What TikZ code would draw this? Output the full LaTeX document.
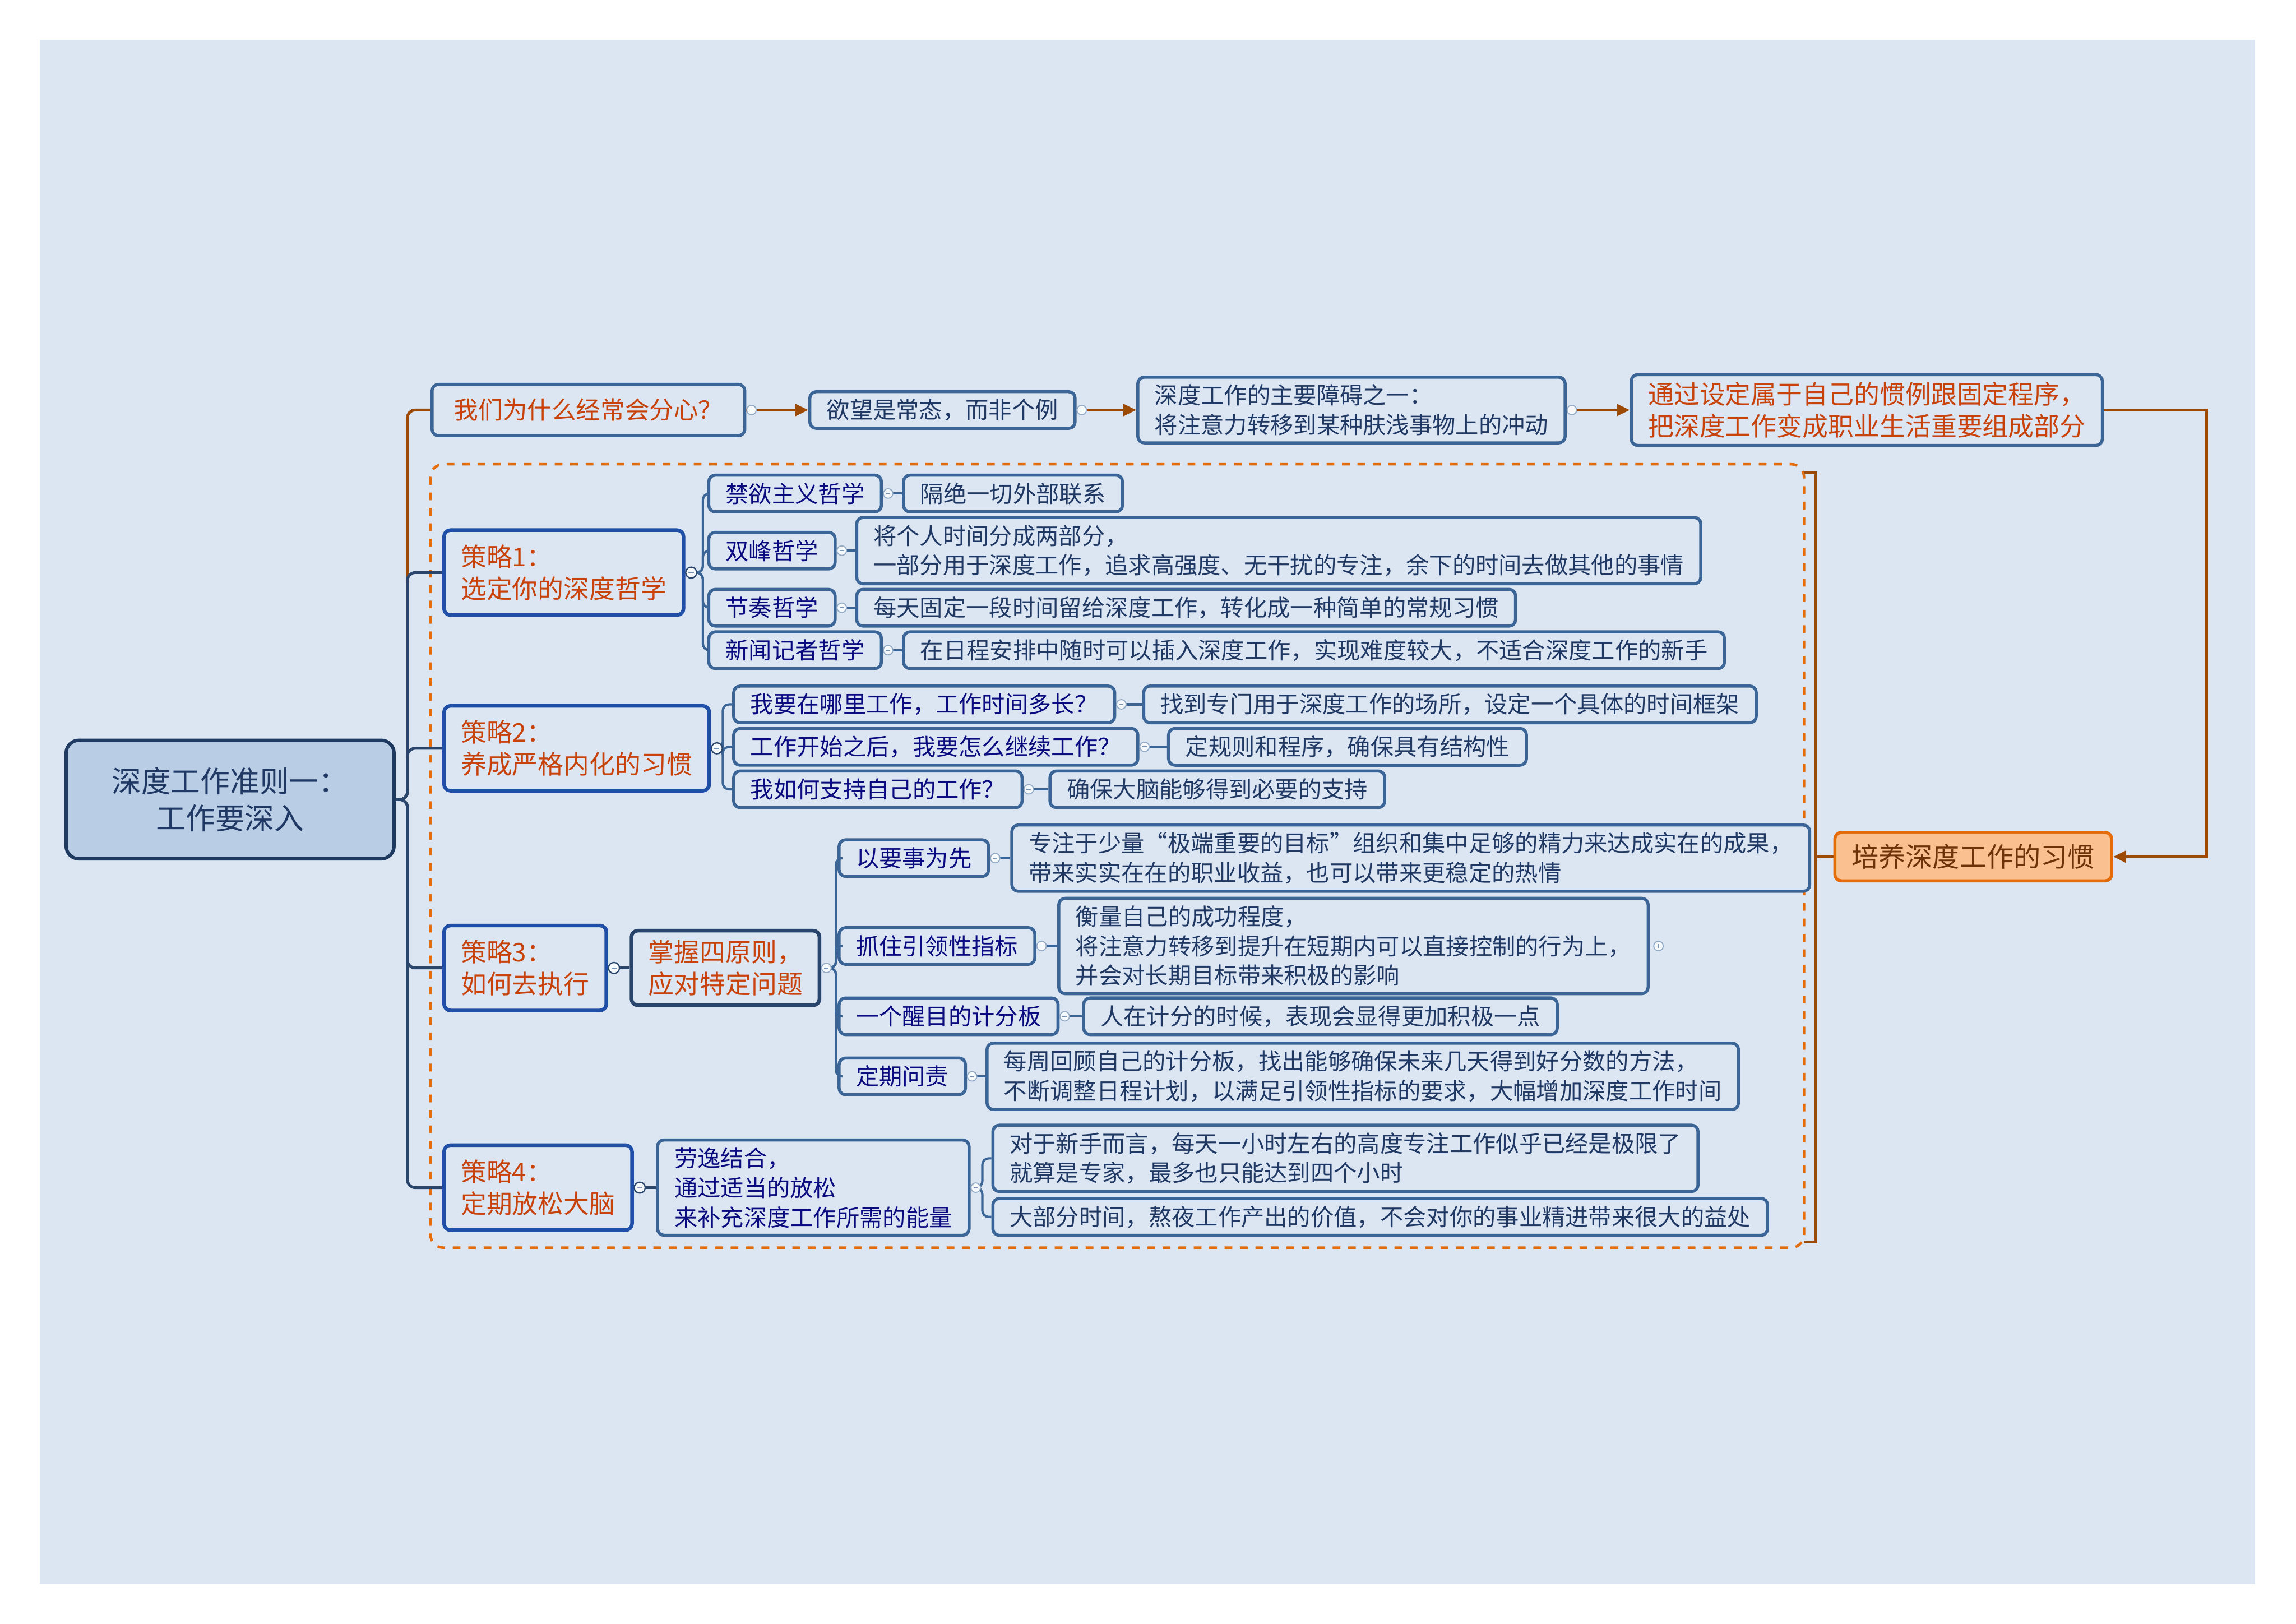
\documentclass[tikz,border=0pt]{standalone}
\usepackage{fontspec}
\setmainfont{Noto Sans CJK SC}
\usetikzlibrary{arrows.meta}

\definecolor{bgblue}{HTML}{DCE6F2}
\definecolor{boxline}{HTML}{3B6596}
\definecolor{stratline}{HTML}{1F4FA6}
\definecolor{rootfill}{HTML}{B9CDE5}
\definecolor{rootline}{HTML}{1F3A60}
\definecolor{orangetxt}{HTML}{C8420C}
\definecolor{navytxt}{HTML}{0B0B80}
\definecolor{leaftxt}{HTML}{1F3864}
\definecolor{brownline}{HTML}{9C4A06}
\definecolor{habitfill}{HTML}{FAC08F}
\definecolor{habitline}{HTML}{E46C0A}
\definecolor{habittxt}{HTML}{6E3309}
\definecolor{trunkcol}{HTML}{2A456B}

\begin{document}
\begin{tikzpicture}[x=0.02cm, y=-0.02cm,
    box/.style={draw=boxline, line width=1.2pt, rounded corners=2.5pt, fill=bgblue, inner xsep=0.23cm, inner ysep=0.1cm, minimum height=0.5cm, anchor=west, align=left},
    leaf/.style={box, text=leaftxt, font=\fontsize{9pt}{11.5pt}\selectfont},
    topic/.style={box, text=navytxt, font=\fontsize{9pt}{11.5pt}\selectfont},
    hint/.style={box, text=orangetxt, font=\fontsize{10pt}{12.5pt}\selectfont},
    strat/.style={hint, draw=stratline, line width=1.4pt, minimum height=1.16cm},
    trunk/.style={draw=trunkcol, line width=1.1pt, rounded corners=3pt},
    twig/.style={draw=boxline, line width=0.9pt, rounded corners=2.5pt},
    relation/.style={draw=brownline, line width=1.1pt, -{Triangle[length=5pt,width=4.5pt]}},
    brace/.style={draw=brownline, line width=1pt},
    knob/.style={draw=boxline!55, fill=white!75!bgblue, line width=0.4pt},
    darkknob/.style={draw=trunkcol, fill=white!75!bgblue, line width=0.5pt}]

    % Kertas dan latar
    \fill[white] (0,0) rectangle (1568,1109);
    \fill[bgblue] (27,27) rectangle (1540,1082);
    \useasboundingbox (0,0) rectangle (1568,1109);

    % Batas strategi
    \draw[habitline, line width=1pt, dashed, rounded corners=5pt] (294,317) rectangle (1232,852);

    % Akar
    \node[draw=rootline, fill=rootfill, line width=1.3pt, rounded corners=5pt, minimum width=4.48cm, minimum height=1.62cm, align=center, anchor=west, text=leaftxt, font=\fontsize{11.5pt}{14.5pt}\selectfont] (root) at (44,546) {深度工作准则一：\\工作要深入};

    % Baris atas
    \node[hint, font=\fontsize{9.5pt}{12pt}\selectfont, inner xsep=0.3cm, minimum height=0.7cm] (top) at (294,280) {我们为什么经常会分心？};
    \node[leaf] (desire) at (552,280) {欲望是常态，而非个例};
    \node[leaf] (obstacle) at (776,280) {深度工作的主要障碍之一：\\将注意力转移到某种肤浅事物上的冲动};
    \node[hint] (ritual) at (1113,280) {通过设定属于自己的惯例跟固定程序，\\把深度工作变成职业生活重要组成部分};

    % Ringkasan
    \node[box, draw=habitline, fill=habitfill, text=habittxt, font=\fontsize{10.5pt}{13pt}\selectfont, minimum height=0.66cm] (habit) at (1252,585) {培养深度工作的习惯};

    % Strategi 1
    \node[strat] (s1) at (302,391) {策略1：\\选定你的深度哲学};
    \node[topic] (s1a) at (483,337) {禁欲主义哲学};
    \node[leaf] (s1aL) at (616,337) {隔绝一切外部联系};
    \node[topic] (s1b) at (483,376) {双峰哲学};
    \node[leaf] (s1bL) at (584,376) {将个人时间分成两部分，\\一部分用于深度工作，追求高强度、无干扰的专注，余下的时间去做其他的事情};
    \node[topic] (s1c) at (483,415) {节奏哲学};
    \node[leaf] (s1cL) at (584,415) {每天固定一段时间留给深度工作，转化成一种简单的常规习惯};
    \node[topic] (s1d) at (483,444) {新闻记者哲学};
    \node[leaf] (s1dL) at (616,444) {在日程安排中随时可以插入深度工作，实现难度较大，不适合深度工作的新手};

    % Strategi 2
    \node[strat] (s2) at (302,511) {策略2：\\养成严格内化的习惯};
    \node[topic] (s2a) at (500,481) {我要在哪里工作，工作时间多长？};
    \node[leaf] (s2aL) at (780,481) {找到专门用于深度工作的场所，设定一个具体的时间框架};
    \node[topic] (s2b) at (500,510) {工作开始之后，我要怎么继续工作？};
    \node[leaf] (s2bL) at (797,510) {定规则和程序，确保具有结构性};
    \node[topic] (s2c) at (500,539) {我如何支持自己的工作？};
    \node[leaf] (s2cL) at (716,539) {确保大脑能够得到必要的支持};

    % Strategi 3
    \node[strat] (s3) at (302,661) {策略3：\\如何去执行};
    \node[hint, draw=trunkcol, line width=1.4pt, minimum height=1.02cm] (s3b) at (430,661) {掌握四原则，\\应对特定问题};
    \node[topic] (s3x1) at (572,586) {以要事为先};
    \node[leaf] (s3x1L) at (690,586) {专注于少量“极端重要的目标”组织和集中足够的精力来达成实在的成果，\\带来实实在在的职业收益，也可以带来更稳定的热情};
    \node[topic] (s3x2) at (572,646) {抓住引领性指标};
    \node[leaf] (s3x2L) at (722,646) {衡量自己的成功程度，\\将注意力转移到提升在短期内可以直接控制的行为上，\\并会对长期目标带来积极的影响};
    \node[topic] (s3x3) at (572,694) {一个醒目的计分板};
    \node[leaf] (s3x3L) at (739,694) {人在计分的时候，表现会显得更加积极一点};
    \node[topic] (s3x4) at (572,735) {定期问责};
    \node[leaf] (s3x4L) at (673,735) {每周回顾自己的计分板，找出能够确保未来几天得到好分数的方法，\\不断调整日程计划，以满足引领性指标的要求，大幅增加深度工作时间};

    % Strategi 4
    \node[strat] (s4) at (302,811) {策略4：\\定期放松大脑};
    \node[topic] (s4b) at (448,811) {劳逸结合，\\通过适当的放松\\来补充深度工作所需的能量};
    \node[leaf] (s4x1) at (677,791) {对于新手而言，每天一小时左右的高度专注工作似乎已经是极限了\\就算是专家，最多也只能达到四个小时};
    \node[leaf] (s4x2) at (677,831) {大部分时间，熬夜工作产出的价值，不会对你的事业精进带来很大的益处};

    % Garis dari akar
    \draw[trunk, draw=brownline] (root.east) -- ++(8,0) |- (top.west);
    \foreach \s in {s1,s2,s3,s4}
        \draw[trunk] (root.east) -- ++(8,0) |- (\s.west);

    % Cabang
    \foreach \c in {s1a,s1b,s1c,s1d}
        \draw[twig] (s1.east) -- ++(12,0) |- (\c.west);
    \foreach \c in {s2a,s2b,s2c}
        \draw[twig] (s2.east) -- ++(8,0) |- (\c.west);
    \draw[trunk] (s3.east) -- (s3b.west);
    \foreach \c in {s3x1,s3x2,s3x3,s3x4}
        \draw[twig] (s3b.east) -- ++(10,0) |- (\c.west);
    \draw[trunk] (s4.east) -- (s4b.west);
    \foreach \c in {s4x1,s4x2}
        \draw[twig] (s4b.east) -- ++(8,0) |- (\c.west);
    \foreach \c in {s1a,s1b,s1c,s1d,s2a,s2b,s2c,s3x1,s3x2,s3x3,s3x4}
        \draw[twig] (\c.east) -- (\c L.west);

    % Rantai atas
    \draw[relation] (top.east) -- (desire.west);
    \draw[relation] (desire.east) -- (obstacle.west);
    \draw[relation] (obstacle.east) -- (ritual.west);
    \coordinate (turn) at (1507,280);
    \draw[relation] (ritual.east) -- (turn) |- (habit.east);

    % Kurung ringkasan
    \coordinate (brtop) at (1232,323);
    \coordinate (brmid) at (1240,585);
    \coordinate (brbot) at (1232,848);
    \draw[brace] (brtop) -| (brmid) |- (brbot);
    \draw[brace] (brmid) -- (habit.west);

    % Tombol lipat
    \foreach \n in {top,desire,obstacle,s1a,s1b,s1c,s1d,s2a,s2b,s2c,s3x1,s3x2,s3x3,s3x4,s3b,s4b} {
        \path ([xshift=0.07cm]\n.east) coordinate (k);
        \draw[knob] (k) circle[radius=0.065cm];
        \draw[boxline!70, line width=0.4pt] ([xshift=-0.03cm]k) -- ([xshift=0.03cm]k);
    }
    \foreach \n in {s1,s2,s3,s4} {
        \path ([xshift=0.08cm]\n.east) coordinate (k);
        \draw[darkknob] (k) circle[radius=0.075cm];
        \draw[boxline!70, line width=0.4pt] ([xshift=-0.035cm]k) -- ([xshift=0.035cm]k);
    }
    \path ([xshift=0.12cm]s3x2L.east) coordinate (k);
    \draw[knob] (k) circle[radius=0.065cm];
    \draw[boxline!70, line width=0.4pt] ([xshift=-0.03cm]k) -- ([xshift=0.03cm]k) ([yshift=-0.03cm]k) -- ([yshift=0.03cm]k);
\end{tikzpicture}
\end{document}
